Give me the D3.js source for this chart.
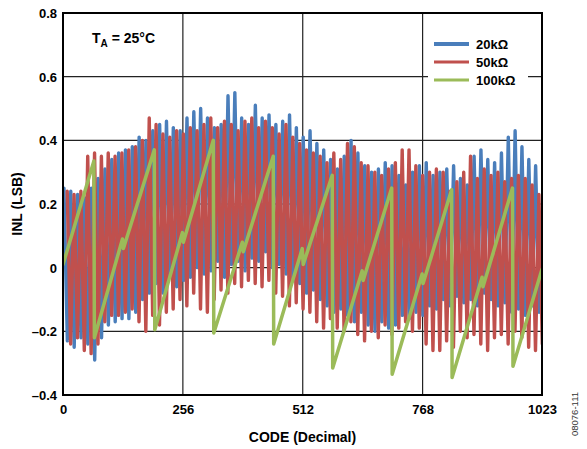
<!DOCTYPE html>
<html>
<head>
<meta charset="utf-8">
<script src="https://cdn.jsdelivr.net/npm/d3@7"></script>
<style>
  body { margin: 0; background: #fff; }
  svg { display: block; font-family: 'Liberation Sans', Arial, sans-serif; }
  .tick-lbl { font-size: 13px; font-weight: bold; fill: #000; }
</style>
</head>
<body>
<div id="graf"></div>
<script>
// I. Datos
// 20kΩ y 50kΩ: un pico y un valle por ciclo, ciclos de ~14.6 códigos
ciclo = 14.6

azulPicos = [0.25, 0.24, 0.23, 0.22, 0.25, 0.28, 0.31, 0.34, 0.36, 0.37,
             0.38, 0.41, 0.40, 0.43, 0.45, 0.46, 0.44, 0.43, 0.47, 0.49,
             0.50, 0.47, 0.44, 0.45, 0.54, 0.55, 0.47, 0.45, 0.51, 0.47,
             0.48, 0.45, 0.46, 0.48, 0.44, 0.41, 0.43, 0.39, 0.37, 0.34,
             0.31, 0.35, 0.40, 0.36, 0.32, 0.30, 0.31, 0.33, 0.32, 0.29,
             0.26, 0.30, 0.32, 0.33, 0.29, 0.30, 0.31, 0.32, 0.28, 0.26,
             0.35, 0.37, 0.34, 0.33, 0.36, 0.41, 0.43, 0.38, 0.34, 0.32]
azulValles = [-0.23, -0.25, -0.22, -0.24, -0.29, -0.22, -0.18, -0.17, -0.16, -0.16,
              -0.14, -0.10, -0.08, -0.05, -0.08, -0.03, -0.06, -0.04, -0.03, 0.00,
              -0.02, -0.01, 0.02, -0.03, 0.01, 0.02, -0.01, 0.03, 0.02, 0.05,
              0.00, 0.01, -0.02, -0.04, -0.05, -0.08, -0.07, -0.10, -0.12, -0.14,
              -0.13, -0.15, -0.17, -0.14, -0.18, -0.20, -0.17, -0.19, -0.18, -0.15,
              -0.16, -0.14, -0.15, -0.12, -0.13, -0.10, -0.12, -0.09, -0.11, -0.10,
              -0.12, -0.08, -0.10, -0.12, -0.11, -0.14, -0.13, -0.15, -0.12, -0.14]

rojoPicos = [0.24, 0.23, 0.24, 0.35, 0.36, 0.35, 0.36, 0.35, 0.36, 0.37,
             0.38, 0.40, 0.47, 0.45, 0.42, 0.41, 0.43, 0.42, 0.44, 0.43,
             0.45, 0.47, 0.44, 0.46, 0.45, 0.43, 0.46, 0.47, 0.44, 0.46,
             0.44, 0.42, 0.45, 0.41, 0.39, 0.37, 0.36, 0.35, 0.33, 0.36,
             0.34, 0.39, 0.38, 0.33, 0.32, 0.30, 0.29, 0.31, 0.33, 0.37,
             0.37, 0.32, 0.29, 0.30, 0.31, 0.30, 0.24, 0.27, 0.30, 0.35,
             0.28, 0.31, 0.29, 0.30, 0.27, 0.28, 0.29, 0.28, 0.26, 0.23]
rojoValles = [-0.24, -0.22, -0.26, -0.27, -0.24, -0.17, -0.15, -0.15, -0.14, -0.13,
              -0.17, -0.20, -0.15, -0.18, -0.14, -0.13, -0.10, -0.12, -0.08, -0.13,
              -0.14, -0.10, -0.07, -0.08, -0.05, -0.06, -0.04, -0.05, -0.06, -0.04,
              -0.08, -0.09, -0.12, -0.11, -0.13, -0.14, -0.17, -0.19, -0.16, -0.19,
              -0.20, -0.17, -0.21, -0.23, -0.20, -0.22, -0.18, -0.21, -0.19, -0.17,
              -0.20, -0.19, -0.24, -0.26, -0.26, -0.23, -0.25, -0.20, -0.22, -0.21,
              -0.24, -0.26, -0.22, -0.21, -0.24, -0.20, -0.22, -0.25, -0.26, -0.24]

// 100kΩ: vértices del diente de sierra
verdeCodigos = [0, 66, 67, 127, 129, 195, 196, 255, 257, 321, 322, 383, 385, 449, 450,
                511, 513, 575, 576, 639, 641, 702, 703, 767, 769, 830, 831, 895, 897,
                960, 961, 1023]
verdeValores = [0.01, 0.335, -0.22, 0.09, 0.06, 0.37, -0.195, 0.11, 0.08, 0.40, -0.205,
                0.08, 0.05, 0.35, -0.24, 0.06, 0.01, 0.29, -0.315, -0.01, -0.04, 0.25,
                -0.335, -0.02, -0.05, 0.245, -0.345, -0.03, -0.06, 0.25, -0.31, -0.005]

xTicks = [0, 256, 512, 768, 1023]
yTicks = [-0.4, -0.2, 0, 0.2, 0.4, 0.6, 0.8]
series = ['20kΩ', '50kΩ', '100kΩ']
colores = ['#4A7EBB', '#C0504D', '#9BBB59']

// II. Configuración
ancho_total = 587
alto_total = 449
margins = { top: 13, left: 63, right: 45, bottom: 54 }
ancho = ancho_total - margins.left - margins.right
alto = alto_total - margins.top - margins.bottom

svg = d3.select('#graf').append('svg')
        .attr('width', ancho_total)
        .attr('height', alto_total)

g = svg.append('g')
       .attr('transform', `translate(${margins.left}, ${margins.top})`)

x = d3.scaleLinear().domain([0, 1023]).range([0, ancho])
y = d3.scaleLinear().domain([-0.4, 0.8]).range([alto, 0])

// Rejilla
g.selectAll('.gy').data(yTicks.slice(1, -1)).enter()
  .append('line')
    .attr('x1', 0).attr('x2', ancho)
    .attr('y1', d => y(d)).attr('y2', d => y(d))
    .attr('stroke', '#222').attr('stroke-width', 1.2)
g.selectAll('.gx').data(xTicks.slice(1, -1)).enter()
  .append('line')
    .attr('x1', d => x(d)).attr('x2', d => x(d))
    .attr('y1', 0).attr('y2', alto)
    .attr('stroke', '#222').attr('stroke-width', 1.2)

// Series
svg.append('clipPath').attr('id', 'clip')
   .append('rect').attr('width', ancho).attr('height', alto)

function zigzag(picos, valles, desfase) {
  pts = []
  picos.forEach((p, k) => {
    pts.push([k * ciclo + desfase, p])
    pts.push([k * ciclo + desfase + ciclo / 2, valles[k]])
  })
  return pts
}

linea = d3.line().x(d => x(d[0])).y(d => y(d[1]))

datos = [
  zigzag(azulPicos, azulValles, 2),
  zigzag(rojoPicos, rojoValles, 9),
  verdeCodigos.map((c, i) => [c, verdeValores[i]])
]

lineas = g.append('g').attr('clip-path', 'url(#clip)')
lineas.selectAll('path').data(datos).enter()
  .append('path')
    .attr('d', linea)
    .attr('fill', 'none')
    .attr('stroke', (d, i) => colores[i])
    .attr('stroke-width', (d, i) => i == 2 ? 3.5 : 3.4)
    .attr('stroke-linejoin', 'round')
    .attr('stroke-linecap', 'round')

// Marco
g.append('rect')
  .attr('width', ancho).attr('height', alto)
  .attr('fill', 'none').attr('stroke', '#000').attr('stroke-width', 2)

// Ejes
yAxisCall = d3.axisLeft(y).tickValues(yTicks).tickSize(0).tickPadding(6)
  .tickFormat(d => d == 0 ? '0' : d3.format('.1f')(d).replace('-', '–').replace('−', '–'))
g.append('g').call(yAxisCall)
  .call(s => s.select('.domain').remove())
  .selectAll('text').attr('class', 'tick-lbl').attr('dy', '0.35em')

xAxisCall = d3.axisBottom(x).tickValues(xTicks).tickSize(0).tickPadding(10)
  .tickFormat(d3.format('d'))
g.append('g').attr('transform', `translate(0, ${alto})`).call(xAxisCall)
  .call(s => s.select('.domain').remove())
  .selectAll('text').attr('class', 'tick-lbl').attr('dy', '0.71em')

svg.append('text')
  .attr('x', margins.left + ancho / 2).attr('y', 442)
  .attr('text-anchor', 'middle')
  .style('font-size', '14px').style('font-weight', 'bold')
  .text('CODE (Decimal)')

svg.append('text')
  .attr('transform', `translate(22, ${margins.top + alto / 2}) rotate(-90)`)
  .attr('text-anchor', 'middle')
  .style('font-size', '14px').style('font-weight', 'bold')
  .text('INL (LSB)')

// Anotación
ta = svg.append('text')
  .attr('x', 92).attr('y', 43)
  .style('font-size', '14px').style('font-weight', 'bold')
ta.append('tspan').text('T')
ta.append('tspan').attr('dy', 4).style('font-size', '10px').text('A')
ta.append('tspan').attr('dy', -4).text(' = 25°C')

// Leyenda
ley = svg.append('g').attr('transform', 'translate(428, 32)')
ley.append('rect')
  .attr('width', 100).attr('height', 62).attr('fill', '#fff')
series.forEach((s, i) => {
  ley.append('line')
    .attr('x1', 6).attr('x2', 41)
    .attr('y1', 12 + i * 18).attr('y2', 12 + i * 18)
    .attr('stroke', colores[i]).attr('stroke-width', i == 0 ? 4 : 3)
  ley.append('text')
    .attr('x', 48).attr('y', 12 + i * 18).attr('dy', '0.35em')
    .style('font-size', '13px').style('font-weight', 'bold')
    .text(s)
})

// Código de figura
svg.append('text')
  .attr('transform', 'translate(578, 414) rotate(-90)')
  .attr('text-anchor', 'middle')
  .style('font-size', '9.5px').style('fill', '#333')
  .text('08076-111')
</script>
</body>
</html>
